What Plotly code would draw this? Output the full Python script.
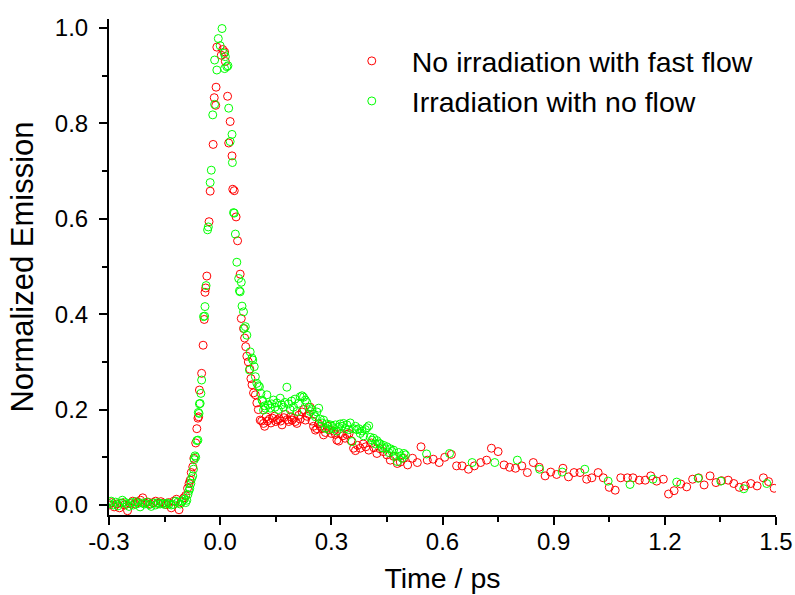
import plotly.graph_objects as go

# ---- data: No irradiation with fast flow (red) ----
red_t = [-0.300, -0.293, -0.286, -0.279, -0.272, -0.265, -0.258, -0.250, -0.243, -0.236,
         -0.229, -0.222, -0.215, -0.209, -0.202, -0.195, -0.188, -0.181, -0.174, -0.167,
         -0.160, -0.153, -0.146, -0.139, -0.132, -0.125, -0.118, -0.111, -0.104, -0.098,
         -0.093, -0.088, -0.084, -0.081, -0.078, -0.074, -0.071, -0.066, -0.063, -0.060,
         -0.058, -0.056, -0.050, -0.046, -0.043, -0.041, -0.039, -0.036, -0.030, -0.027,
         -0.019, -0.016, -0.012, -0.011, -0.009, 0.003, 0.007, 0.012, 0.014, 0.020,
         0.023, 0.027, 0.032, 0.034, 0.038, 0.043, 0.047, 0.054, 0.057, 0.063,
         0.066, 0.069, 0.072, 0.076, 0.080, 0.083, 0.086, 0.090, 0.095, 0.099,
         0.103, 0.108, 0.112, 0.117, 0.120, 0.124, 0.128, 0.133, 0.137, 0.141,
         0.146, 0.150, 0.155, 0.159, 0.163, 0.167, 0.172, 0.176, 0.181, 0.185,
         0.190, 0.194, 0.199, 0.203, 0.207, 0.212, 0.216, 0.221, 0.225, 0.230,
         0.234, 0.239, 0.243, 0.248, 0.252, 0.257, 0.261, 0.266, 0.270, 0.275,
         0.279, 0.284, 0.290, 0.295, 0.300, 0.306, 0.311, 0.315, 0.320, 0.326,
         0.331, 0.337, 0.342, 0.348, 0.353, 0.360, 0.365, 0.371, 0.378, 0.386,
         0.393, 0.401, 0.408, 0.415, 0.423, 0.431, 0.440, 0.450, 0.459, 0.468,
         0.478, 0.486, 0.495, 0.506, 0.519, 0.532, 0.542, 0.559, 0.575, 0.591,
         0.606, 0.624, 0.638, 0.653, 0.670, 0.686, 0.703, 0.719, 0.732, 0.750,
         0.766, 0.781, 0.797, 0.814, 0.829, 0.845, 0.861, 0.877, 0.892, 0.908,
         0.925, 0.940, 0.955, 0.971, 0.989, 1.003, 1.020, 1.034, 1.050, 1.066,
         1.081, 1.099, 1.114, 1.131, 1.147, 1.162, 1.178, 1.196, 1.210, 1.225,
         1.243, 1.259, 1.275, 1.291, 1.306, 1.322, 1.338, 1.353, 1.371, 1.386,
         1.401, 1.417, 1.432, 1.449, 1.466, 1.480, 1.495]
red_v = [0.000, 0.005, -0.004, 0.002, -0.006, 0.004, 0.000, -0.012, 0.003, 0.008,
         0.002, 0.006, 0.010, 0.015, 0.004, 0.006, 0.002, 0.005, 0.008, 0.003,
         0.007, 0.004, 0.001, 0.005, -0.006, 0.008, 0.012, -0.010, 0.006, 0.015,
         0.020, 0.035, 0.045, 0.052, 0.068, 0.080, 0.098, 0.130, 0.160, 0.182,
         0.185, 0.241, 0.276, 0.335, 0.389, 0.446, 0.455, 0.480, 0.594, 0.658,
         0.756, 0.854, 0.838, 0.876, 0.960, 0.943, 0.955, 0.950, 0.930, 0.857,
         0.759, 0.804, 0.732, 0.662, 0.659, 0.604, 0.554, 0.484, 0.391, 0.370,
         0.350, 0.332, 0.312, 0.300, 0.285, 0.265, 0.252, 0.235, 0.231, 0.214,
         0.200, 0.178, 0.176, 0.171, 0.165, 0.185, 0.176, 0.180, 0.172, 0.182,
         0.186, 0.175, 0.178, 0.181, 0.176, 0.168, 0.183, 0.190, 0.179, 0.175,
         0.185, 0.178, 0.182, 0.175, 0.171, 0.188, 0.180, 0.195, 0.200, 0.178,
         0.186, 0.190, 0.205, 0.176, 0.165, 0.157, 0.160, 0.170, 0.165, 0.160,
         0.147, 0.152, 0.165, 0.158, 0.150, 0.155, 0.148, 0.136, 0.134, 0.150,
         0.145, 0.140, 0.148, 0.150, 0.135, 0.119, 0.114, 0.125, 0.119, 0.128,
         0.122, 0.115, 0.130, 0.120, 0.108, 0.118, 0.112, 0.105, 0.094, 0.102,
         0.087, 0.090, 0.098, 0.084, 0.098, 0.089, 0.122, 0.094, 0.096, 0.089,
         0.100, 0.106, 0.082, 0.082, 0.075, 0.082, 0.089, 0.094, 0.119, 0.112,
         0.084, 0.079, 0.077, 0.082, 0.068, 0.089, 0.079, 0.061, 0.069, 0.064,
         0.077, 0.059, 0.068, 0.068, 0.054, 0.057, 0.068, 0.057, 0.037, 0.031,
         0.057, 0.057, 0.057, 0.052, 0.052, 0.061, 0.050, 0.054, 0.023, 0.030,
         0.044, 0.038, 0.054, 0.057, 0.042, 0.061, 0.047, 0.051, 0.052, 0.045,
         0.037, 0.040, 0.045, 0.040, 0.057, 0.049, 0.035]

# ---- data: Irradiation with no flow (green) ----
green_t = [-0.300, -0.294, -0.288, -0.282, -0.276, -0.270, -0.264, -0.258, -0.252, -0.246,
           -0.240, -0.234, -0.228, -0.222, -0.216, -0.210, -0.204, -0.198, -0.192, -0.186,
           -0.180, -0.174, -0.168, -0.162, -0.156, -0.150, -0.144, -0.138, -0.132, -0.126,
           -0.120, -0.114, -0.108, -0.102, -0.097, -0.093, -0.090, -0.087, -0.084, -0.082,
           -0.079, -0.077, -0.074, -0.072, -0.070, -0.068, -0.066, -0.063, -0.060, -0.059,
           -0.057, -0.056, -0.054, -0.052, -0.050, -0.045, -0.042, -0.041, -0.038, -0.034,
           -0.032, -0.027, -0.024, -0.020, -0.015, -0.015, -0.009, -0.005, 0.000, 0.005,
           0.011, 0.012, 0.014, 0.018, 0.021, 0.023, 0.027, 0.032, 0.033, 0.036,
           0.038, 0.041, 0.045, 0.050, 0.052, 0.054, 0.057, 0.059, 0.063, 0.065,
           0.068, 0.072, 0.079, 0.081, 0.086, 0.088, 0.092, 0.095, 0.099, 0.103,
           0.106, 0.110, 0.113, 0.115, 0.117, 0.120, 0.122, 0.126, 0.130, 0.135,
           0.139, 0.144, 0.148, 0.153, 0.157, 0.162, 0.166, 0.171, 0.175, 0.180,
           0.184, 0.189, 0.193, 0.198, 0.202, 0.207, 0.211, 0.216, 0.221, 0.225,
           0.230, 0.234, 0.239, 0.243, 0.248, 0.252, 0.257, 0.261, 0.266, 0.270,
           0.275, 0.279, 0.284, 0.288, 0.293, 0.297, 0.302, 0.306, 0.311, 0.315,
           0.320, 0.324, 0.329, 0.333, 0.338, 0.342, 0.347, 0.351, 0.356, 0.360,
           0.365, 0.369, 0.374, 0.378, 0.383, 0.387, 0.392, 0.396, 0.401, 0.405,
           0.410, 0.414, 0.419, 0.423, 0.428, 0.432, 0.437, 0.441, 0.446, 0.450,
           0.455, 0.459, 0.464, 0.468, 0.473, 0.478, 0.482, 0.487, 0.491, 0.496,
           0.500, 0.557, 0.619, 0.680, 0.741, 0.802, 0.862, 0.923, 0.984, 1.047,
           1.106, 1.168, 1.232, 1.290, 1.351, 1.413, 1.475]
green_v = [0.003, 0.008, 0.000, 0.006, -0.002, 0.004, 0.010, 0.006, 0.002, -0.003,
           0.005, 0.000, 0.007, 0.003, -0.004, 0.004, 0.002, 0.006, 0.001, -0.003,
           0.004, 0.000, 0.005, 0.002, 0.003, 0.001, 0.004, 0.002, 0.000, 0.001,
           0.008, 0.006, 0.002, 0.008, 0.012, 0.005, 0.010, 0.022, 0.030, 0.035,
           0.045, 0.055, 0.061, 0.075, 0.095, 0.103, 0.100, 0.135, 0.136, 0.194,
           0.192, 0.212, 0.213, 0.234, 0.262, 0.395, 0.396, 0.416, 0.460, 0.577,
           0.583, 0.676, 0.702, 0.818, 0.840, 0.933, 0.912, 0.978, 0.963, 0.999,
           0.947, 0.915, 0.940, 0.919, 0.921, 0.832, 0.762, 0.777, 0.718, 0.613,
           0.612, 0.568, 0.509, 0.475, 0.449, 0.447, 0.467, 0.417, 0.405, 0.370,
           0.374, 0.356, 0.283, 0.321, 0.308, 0.304, 0.290, 0.269, 0.255, 0.250,
           0.248, 0.234, 0.220, 0.217, 0.199, 0.208, 0.203, 0.231, 0.210, 0.203,
           0.212, 0.220, 0.205, 0.214, 0.200, 0.224, 0.210, 0.205, 0.215, 0.247,
           0.212, 0.200, 0.218, 0.205, 0.222, 0.196, 0.213, 0.227, 0.229, 0.226,
           0.220, 0.215, 0.205, 0.196, 0.200, 0.190, 0.185, 0.195, 0.203, 0.180,
           0.172, 0.178, 0.161, 0.170, 0.158, 0.168, 0.165, 0.160, 0.168, 0.155,
           0.163, 0.170, 0.165, 0.171, 0.160, 0.168, 0.158, 0.172, 0.133, 0.160,
           0.165, 0.158, 0.160, 0.150, 0.155, 0.145, 0.158, 0.162, 0.166, 0.142,
           0.136, 0.140, 0.128, 0.135, 0.130, 0.128, 0.120, 0.125, 0.118, 0.122,
           0.110, 0.118, 0.112, 0.115, 0.102, 0.091, 0.110, 0.103, 0.098, 0.108,
           0.105, 0.107, 0.108, 0.089, 0.089, 0.094, 0.075, 0.069, 0.075, 0.050,
           0.043, 0.054, 0.048, 0.056, 0.050, 0.034, 0.045]

x_ticks = [-0.3, 0.0, 0.3, 0.6, 0.9, 1.2, 1.5]
x_tick_text = ["-0.3", "0.0", "0.3", "0.6", "0.9", "1.2", "1.5"]
y_ticks = [0.0, 0.2, 0.4, 0.6, 0.8, 1.0]
y_tick_text = ["0.0", "0.2", "0.4", "0.6", "0.8", "1.0"]

FONT = "Arial, 'Liberation Sans', sans-serif"

fig = go.Figure()
fig.add_trace(go.Scatter(
    x=red_t, y=red_v, mode="markers", name="No irradiation with fast flow",
    marker=dict(symbol="circle-open", size=8, color="#ff0000", line=dict(width=1, color="#ff0000")),
))
fig.add_trace(go.Scatter(
    x=green_t, y=green_v, mode="markers", name="Irradiation with no flow",
    marker=dict(symbol="circle-open", size=8, color="#00ff00", line=dict(width=1, color="#00ff00")),
))

axis_common = dict(
    showgrid=False, zeroline=False, showline=True, linecolor="black", linewidth=2,
    ticks="outside", ticklen=8, tickwidth=2, tickcolor="black",
    tickfont=dict(family=FONT, size=24, color="black"),
    automargin=False,
)

fig.update_xaxes(
    range=[-0.3, 1.5], tickmode="array", tickvals=x_ticks, ticktext=x_tick_text,
    title=dict(text="Time / ps", font=dict(family=FONT, size=28.5, color="black"), standoff=14),
    minor=dict(ticks="outside", ticklen=5, tickwidth=2, tickcolor="black", dtick=0.15, tick0=-0.3),
    ticklabelstandoff=-4,
    **axis_common,
)
fig.update_yaxes(
    range=[-0.021, 1.019], tickmode="array", tickvals=y_ticks, ticktext=y_tick_text,
    title=dict(text="Normalized Emission", font=dict(family=FONT, size=31, color="black"), standoff=12),
    minor=dict(ticks="outside", ticklen=5, tickwidth=2, tickcolor="black", dtick=0.1, tick0=0),
    ticklabelstandoff=6,
    **axis_common,
)

fig.update_layout(
    width=795, height=595,
    margin=dict(l=109, r=19, t=19, b=80),
    plot_bgcolor="white", paper_bgcolor="white",
    showlegend=True,
    legend=dict(x=0.334, y=0.966, xanchor="left", yanchor="top",
                font=dict(family=FONT, size=28.5, color="black"),
                bgcolor="rgba(0,0,0,0)", borderwidth=0, itemwidth=70),
)

fig.write_html("out.html")
